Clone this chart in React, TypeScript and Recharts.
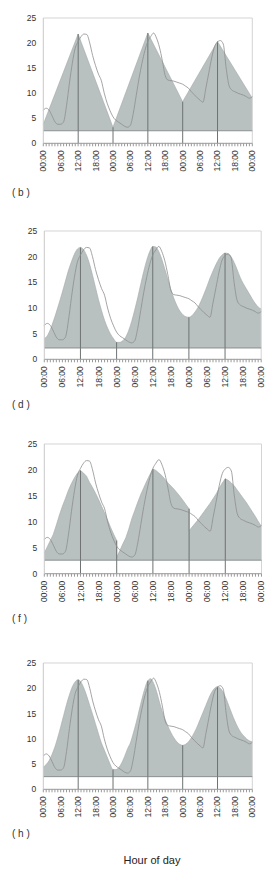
import React from "react";
import { ComposedChart, Area, Line, Bar, XAxis, YAxis, ReferenceLine } from "recharts";

// hours across three days
const HOURS = [
  0, 1, 2, 3, 4, 5, 6, 7, 8, 9, 10, 11, 12, 13, 14, 15, 16, 17, 18, 19, 20, 21, 22, 23, 24,
  25, 26, 27, 28, 29, 30, 31, 32, 33, 34, 35, 36, 37, 38, 39, 40, 41, 42, 43, 44, 45, 46, 47, 48,
  49, 50, 51, 52, 53, 54, 55, 56, 57, 58, 59, 60, 61, 62, 63, 64, 65, 66, 67, 68, 69, 70, 71, 72,
];
const Y_TICKS = [0, 5, 10, 15, 20, 25];
const SPIKE_HOURS = [12, 24, 36, 48, 60];

// measured temperature, same in every panel
const OBSERVED = [
  6.6, 7.0, 6.6, 5.5, 4.3, 3.8, 3.8, 4.3, 7.5, 12.0, 16.0, 19.0, 20.3, 21.3, 21.8, 21.7, 20.0, 17.5,
  15.5, 13.8, 12.5, 10.0, 8.0, 6.5, 5.3, 4.6, 4.2, 3.8, 3.4, 3.2, 3.6, 6.0, 9.5, 13.0, 16.0, 18.5,
  20.3, 21.3, 22.0, 21.0, 19.2, 16.5, 13.5, 12.6, 12.5, 12.4, 12.2, 12.0, 11.8, 11.4, 11.0, 10.3,
  9.7, 9.1, 8.6, 8.2, 11.0, 14.0, 17.0, 19.3, 20.2, 20.5, 19.8, 15.0, 11.5, 10.6, 10.3, 10.0, 9.8,
  9.6, 9.3, 9.0, 9.3,
];

// (b) piecewise linear model, known only at these hours
const MODEL_B_HOURS = [0, 12, 24, 36, 48, 60, 72];
const MODEL_B_VALUES = [3.8, 21.8, 3.2, 22.0, 8.3, 20.3, 9.0];

// (d) smooth model
const MODEL_D = [
  4.0, 4.6, 5.8, 7.4, 9.2, 11.1, 13.1, 15.2, 17.3, 19.0, 20.5, 21.5, 21.8, 21.4, 20.3, 18.6, 16.4,
  14.0, 11.6, 9.5, 7.6, 6.1, 4.9, 4.0, 3.3, 3.3, 3.6, 4.3, 5.6, 7.4, 9.6, 12.0, 14.6, 17.1, 19.3,
  21.0, 22.0, 21.9, 21.0, 19.5, 17.6, 15.6, 13.6, 11.9, 10.5, 9.4, 8.7, 8.3, 8.2, 8.5, 9.2, 10.1,
  11.3, 12.7, 14.2, 15.8, 17.2, 18.5, 19.6, 20.3, 20.7, 20.6, 20.0, 18.9, 17.5, 16.0, 14.8, 13.8,
  12.8, 11.8, 10.9, 10.2, 9.8,
];

// (f) asymmetric model, restarts after midnight
const MODEL_F = [
  4.0, 5.2, 6.4, 7.6, 9.4, 11.3, 13.0, 14.5, 16.1, 17.4, 18.5, 19.4, 19.9, 19.4, 18.8, 17.6, 16.6,
  15.5, 14.3, 13.0, 11.7, 10.3, 8.9, 7.6, 6.4, 4.4, 5.7, 6.9, 8.6, 10.6, 12.2, 13.8, 15.3, 16.6,
  17.9, 19.1, 20.2, 19.9, 19.4, 18.9, 18.2, 17.5, 16.9, 16.3, 15.6, 14.9, 14.1, 13.3, 12.5, 9.0,
  9.7, 10.4, 11.2, 12.0, 12.8, 13.6, 14.5, 15.4, 16.5, 17.5, 18.3, 18.0, 17.5, 16.9, 16.1, 15.3,
  14.5, 13.7, 12.8, 11.9, 11.0, 10.0, 9.1,
];
const MODEL_F_RESTART_HOURS = [24, 48];
const MODEL_F_RESTART_VALUES = [3.2, 8.3];

// (h) smooth model
const MODEL_H = [
  4.4, 4.9, 5.7, 6.9, 8.4, 10.3, 12.4, 14.6, 16.8, 18.7, 20.3, 21.3, 21.7, 21.2, 20.0, 18.4, 16.6,
  14.8, 12.9, 11.0, 9.2, 7.8, 6.4, 5.0, 3.9, 3.9, 4.3, 5.2, 6.5, 8.0, 9.2, 11.1, 13.2, 15.6, 17.9,
  20.0, 21.5, 21.9, 21.0, 19.4, 17.3, 15.4, 13.8, 12.4, 11.2, 10.2, 9.4, 8.9, 8.7, 8.9, 9.4, 10.2,
  11.2, 12.4, 13.8, 15.2, 16.6, 18.0, 19.2, 20.0, 20.3, 20.0, 19.2, 17.9, 16.4, 14.9, 13.5, 12.3,
  11.3, 10.6, 10.0, 9.6, 9.4,
];

type Row = { h: number; obs: number | null; model: number | null; spike: number | null };

function buildRows(model: (number | null)[], restartHours: number[] = [], restartValues: number[] = []): Row[] {
  const rows: Row[] = [];
  HOURS.forEach((h, i) => {
    const v = model[i];
    rows.push({ h, obs: OBSERVED[i], model: v, spike: SPIKE_HOURS.includes(h) ? v : null });
    const r = restartHours.indexOf(h);
    if (r >= 0) rows.push({ h, obs: null, model: restartValues[r], spike: null });
  });
  return rows;
}

const modelB = HOURS.map((h) => {
  const k = MODEL_B_HOURS.indexOf(h);
  return k >= 0 ? MODEL_B_VALUES[k] : null;
});

const PANELS = [
  { label: "( b )", rows: buildRows(modelB), curve: "linear", base: 2.5, top: 0, plotH: 125.3, yw: 43.3, right: 12.7, labelY: 193.3 },
  { label: "( d )", rows: buildRows(MODEL_D), curve: "monotone", base: 2.2, top: 212.7, plotH: 128.3, yw: 44.3, right: 3.8, labelY: 405 },
  {
    label: "( f )",
    rows: buildRows(MODEL_F, MODEL_F_RESTART_HOURS, MODEL_F_RESTART_VALUES),
    curve: "linear",
    base: 2.6,
    top: 426.3,
    plotH: 129.7,
    yw: 44.3,
    right: 3.5,
    labelY: 619.3,
  },
  { label: "( h )", rows: buildRows(MODEL_H), curve: "monotone", base: 2.5, top: 644.7, plotH: 126.3, yw: 43.3, right: 12.7, labelY: 834.3 },
];

const FONT = "'Liberation Sans', Arial, sans-serif";

function HourTick(props: any) {
  const { x, y, payload } = props;
  const h = payload.value as number;
  if (h % 6 !== 0) return null;
  const txt = `${String(h % 24).padStart(2, "0")}:00`;
  return (
    <text
      x={x}
      y={y}
      transform={`rotate(-90, ${x}, ${y})`}
      textAnchor="end"
      dominantBaseline="central"
      fontSize={8.5}
      fontFamily={FONT}
      fill="#333"
    >
      {txt}
    </text>
  );
}

function Panel({ p }: { p: (typeof PANELS)[number] }) {
  return (
    <div style={{ position: "absolute", left: 0, top: p.top }}>
      <ComposedChart
        width={265}
        height={18 + p.plotH + 30}
        data={p.rows}
        margin={{ top: 18, right: p.right, left: 0, bottom: 0 }}
        style={{ overflow: "visible" }}
      >
        <XAxis
          dataKey="h"
          type="number"
          domain={[0, 72]}
          ticks={HOURS}
          interval={0}
          height={30}
          tickSize={3}
          tickMargin={4}
          stroke="#999"
          tick={<HourTick />}
        />
        <YAxis
          type="number"
          domain={[0, 25]}
          ticks={Y_TICKS}
          width={p.yw}
          tickLine={false}
          tickSize={0}
          tickMargin={7}
          stroke="#c8c8c8"
          tick={{ fontSize: 8.5, fontFamily: FONT, fill: "#333" }}
        />
        <ReferenceLine y={25} stroke="#d4d4d4" ifOverflow="extendDomain" />
        <ReferenceLine x={72} stroke="#d4d4d4" />
        <Area
          dataKey="model"
          type={p.curve as any}
          baseValue={p.base}
          connectNulls
          fill="#b8c0c0"
          fillOpacity={1}
          stroke="#a2aaaa"
          strokeWidth={0.6}
          dot={false}
          activeDot={false}
          isAnimationActive={false}
        />
        <ReferenceLine y={p.base} stroke="#7a7f7f" strokeWidth={0.8} />
        <Bar dataKey="spike" barSize={1} fill="#6e7272" isAnimationActive={false} />
        <Line
          dataKey="obs"
          type="monotone"
          connectNulls
          stroke="#8e8e8e"
          strokeWidth={0.8}
          dot={false}
          activeDot={false}
          isAnimationActive={false}
        />
      </ComposedChart>
      <div
        style={{
          position: "absolute",
          left: 12,
          top: p.labelY - p.top - 6,
          fontFamily: FONT,
          fontSize: 10,
          lineHeight: "12px",
          color: "#333",
          whiteSpace: "pre",
        }}
      >
        {p.label}
      </div>
    </div>
  );
}

export default function App() {
  return (
    <div style={{ position: "absolute", left: 0, top: 0, width: 265, height: 878, background: "#fff" }}>
      {PANELS.map((p) => (
        <Panel key={p.label} p={p} />
      ))}
      <div
        style={{
          position: "absolute",
          left: 0,
          width: 304,
          top: 853,
          textAlign: "center",
          fontFamily: FONT,
          fontSize: 11,
          lineHeight: "14px",
          color: "#222",
        }}
      >
        Hour of day
      </div>
    </div>
  );
}
